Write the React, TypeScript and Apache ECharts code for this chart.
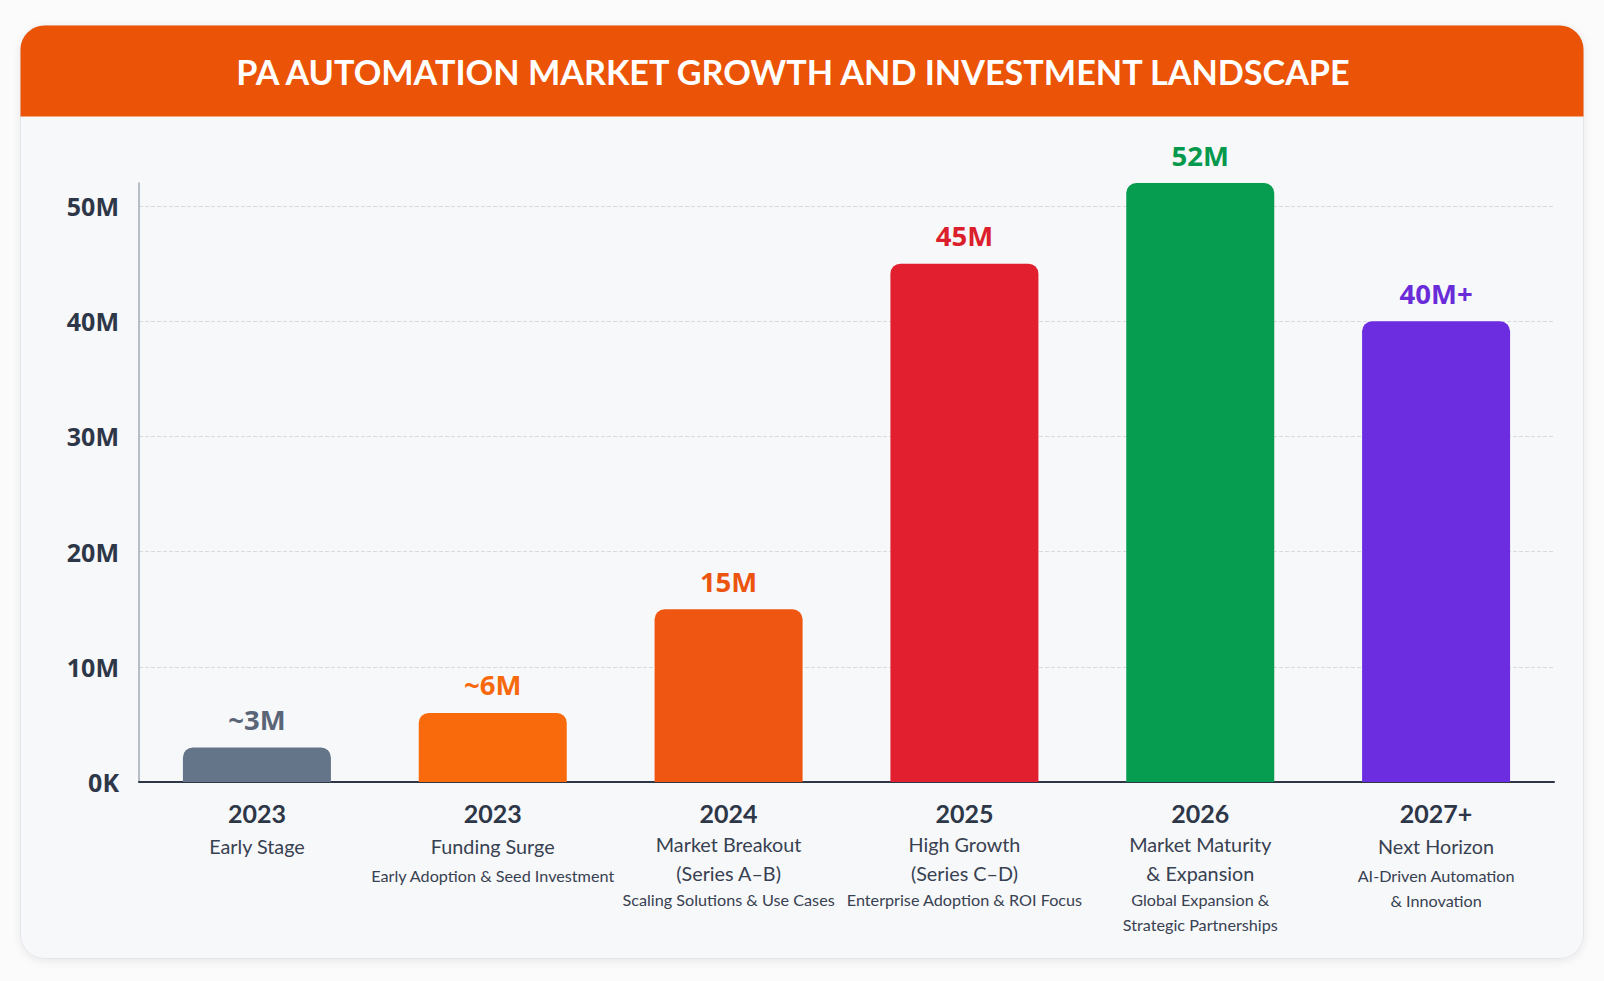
import React, { useEffect, useRef } from "react";
import * as echarts from "echarts";

// Funding stages along the x axis
const years = ["2023", "2023", "2024", "2025", "2026", "2027+"];
const stageTitles = [
  ["Early Stage"],
  ["Funding Surge"],
  ["Market Breakout", "(Series A–B)"],
  ["High Growth", "(Series C–D)"],
  ["Market Maturity", "& Expansion"],
  ["Next Horizon"],
];
const stageNotes = [
  [],
  ["Early Adoption & Seed Investment"],
  ["Scaling Solutions & Use Cases"],
  ["Enterprise Adoption & ROI Focus"],
  ["Global Expansion &", "Strategic Partnerships"],
  ["AI-Driven Automation", "& Innovation"],
];

// Market size in millions
const marketValues = [3, 6, 15, 45, 52, 40];
const valueLabels = ["~3M", "~6M", "15M", "45M", "52M", "40M+"];

const barColors = ["#647489", "#f86a0b", "#ee5611", "#e21f2e", "#069d51", "#6c2de0"];
const labelColors = ["#5a6678", "#f7690c", "#ec5510", "#dc1f2d", "#05994d", "#6a2bd9"];

const TITLE = "PA AUTOMATION MARKET GROWTH AND INVESTMENT LANDSCAPE";

function stageLabel(index: number): string {
  const lines: string[] = [`{y|${years[index]}}`];
  const titles = stageTitles[index];
  const midStyle = titles.length === 1 ? "ms" : "m";
  titles.forEach((t) => lines.push(`{${midStyle}|${t}}`));
  stageNotes[index].forEach((n) => lines.push(`{s|${n}}`));
  return lines.join("\n");
}

export default function App() {
  const ref = useRef<HTMLDivElement>(null);

  useEffect(() => {
    if (!ref.current) return;
    const chart = echarts.init(ref.current, undefined, { renderer: "svg" });
    chart.setOption({
      animation: false,
      backgroundColor: "#fbfbfc",
      graphic: [
        {
          type: "rect",
          z: -10,
          shape: { x: 20.5, y: 25.5, width: 1563, height: 933, r: 24 },
          style: {
            fill: "#f7f8fa",
            stroke: "#e4e6ea",
            lineWidth: 1,
            shadowBlur: 8,
            shadowColor: "rgba(0,0,0,0.08)",
            shadowOffsetY: 2,
          },
        },
        {
          type: "rect",
          z: -9,
          shape: { x: 20.5, y: 25.5, width: 1563, height: 91, r: [24, 24, 0, 0] },
          style: { fill: "#eb5306" },
        },
        {
          type: "text",
          z: -8,
          x: 793,
          y: 71,
          style: {
            text: TITLE,
            fill: "#ffffff",
            fontSize: 34.2,
            fontWeight: "bold",
            fontFamily: "Lato",
            align: "center",
            verticalAlign: "middle",
          },
        },
      ],
      grid: { left: 139, right: 50, top: 183, bottom: 199, containLabel: false },
      xAxis: {
        type: "category",
        data: stageTitles.map((t) => t.join(" ")),
        axisLine: { show: true, lineStyle: { color: "#2d3748", width: 2 } },
        axisTick: { show: false },
        axisLabel: {
          interval: 0,
          margin: 14,
          formatter: (_v: string, i: number) => stageLabel(i),
          fontFamily: "Lato",
          rich: {
            y: { fontSize: 25, fontWeight: "bold", color: "#2d3748", lineHeight: 33, fontFamily: "Lato" },
            m: { fontSize: 19.8, color: "#374151", lineHeight: 29, fontFamily: "Lato" },
            ms: { fontSize: 19.8, color: "#374151", lineHeight: 34, fontFamily: "Lato" },
            s: { fontSize: 16.2, color: "#374151", lineHeight: 25, fontFamily: "Lato" },
          },
        },
      },
      yAxis: {
        type: "value",
        min: 0,
        max: 52,
        interval: 10,
        axisLine: { show: true, lineStyle: { color: "#a3abb6", width: 1.5 } },
        axisTick: { show: false },
        axisLabel: {
          margin: 20,
          showMaxLabel: false,
          color: "#2d3748",
          fontSize: 25,
          fontWeight: "bold",
          fontFamily: "Open Sans",
          formatter: (v: number) => (v === 0 ? "0K" : `${v}M`),
        },
        splitLine: {
          show: true,
          showMinLine: false,
          showMaxLine: false,
          lineStyle: { color: "#d6dae0", type: "dashed", width: 1 },
        },
      },
      series: [
        {
          type: "bar",
          barWidth: 148,
          data: marketValues.map((v, i) => ({
            value: v,
            itemStyle: { color: barColors[i], borderRadius: [10, 10, 0, 0] },
            label: { color: labelColors[i] },
          })),
          label: {
            show: true,
            position: "top",
            distance: 14,
            fontSize: 27.5,
            fontWeight: "bold",
            fontFamily: "Open Sans",
            formatter: (p: any) => valueLabels[p.dataIndex],
          },
        },
      ],
    });
    return () => chart.dispose();
  }, []);

  return (
    <div
      ref={ref}
      style={{ position: "fixed", left: 0, top: 0, width: 1604, height: 981 }}
    />
  );
}
